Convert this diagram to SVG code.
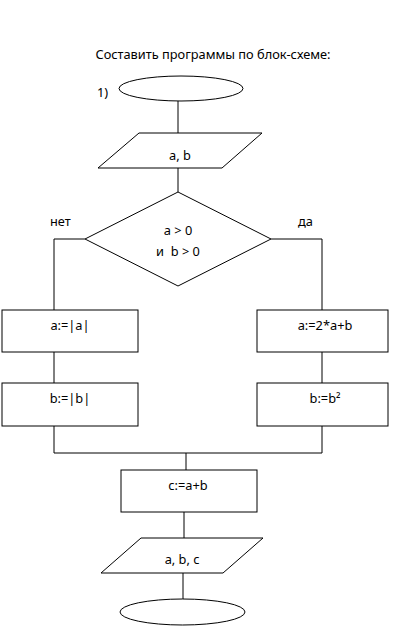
<svg xmlns="http://www.w3.org/2000/svg" width="396" height="633" viewBox="0 0 396 633">
<style>
.s{fill:#fff;stroke:#000;stroke-width:1}
.c{fill:none;stroke:#000;stroke-width:1}
text{font-family:"Noto Sans","Open Sans",sans-serif;font-size:12.8px;fill:#000}
.m{text-anchor:middle}
</style>
<rect width="396" height="633" fill="#fff"/>
<text x="213" y="59" class="m">Составить программы по блок-схеме:</text>
<g id="connectors">
<path class="c" d="M178 101V133M178 168V192M85 239H54V310M271 239H322V310M54 352V383M322 352V383M54 426V453H322V426M186 453V470M184 512V538M183 573V599"/>
</g>
<g id="start"><text x="97" y="97">1)</text><ellipse class="s" cx="181" cy="88.5" rx="62" ry="12.5"/></g>
<g id="input"><polygon class="s" points="139,133 262,133 222,168 98,168"/><text x="180" y="160" class="m">a, b</text></g>
<g id="cond"><polygon class="s" points="178,192 271,239 178,286 85,239"/><text x="178" y="235" class="m">a &gt; 0</text><text x="178" y="256" class="m" xml:space="preserve">и  b &gt; 0</text></g>
<g id="lbl-no"><text x="50" y="226">нет</text></g>
<g id="lbl-yes"><text x="298" y="226">да</text></g>
<g id="a-abs"><rect class="s" x="2" y="310" width="136" height="42"/><text x="70" y="330" class="m">a:=|a|</text></g>
<g id="b-abs"><rect class="s" x="2" y="383" width="136" height="43"/><text x="70" y="403" class="m">b:=|b|</text></g>
<g id="a-2ab"><rect class="s" x="257" y="310" width="131" height="42"/><text x="325" y="330" class="m">a:=2*a+b</text></g>
<g id="b-sq"><rect class="s" x="257" y="383" width="131" height="43"/><text x="325" y="403" class="m">b:=b²</text></g>
<g id="c-sum"><rect class="s" x="121" y="470" width="136" height="42"/><text x="188" y="490" class="m">c:=a+b</text></g>
<g id="output"><polygon class="s" points="141,538 263,538 223,573 101,573"/><text x="182" y="564" class="m">a, b, c</text></g>
<g id="end"><ellipse class="s" cx="182.5" cy="612" rx="62.5" ry="13"/></g>
</svg>
